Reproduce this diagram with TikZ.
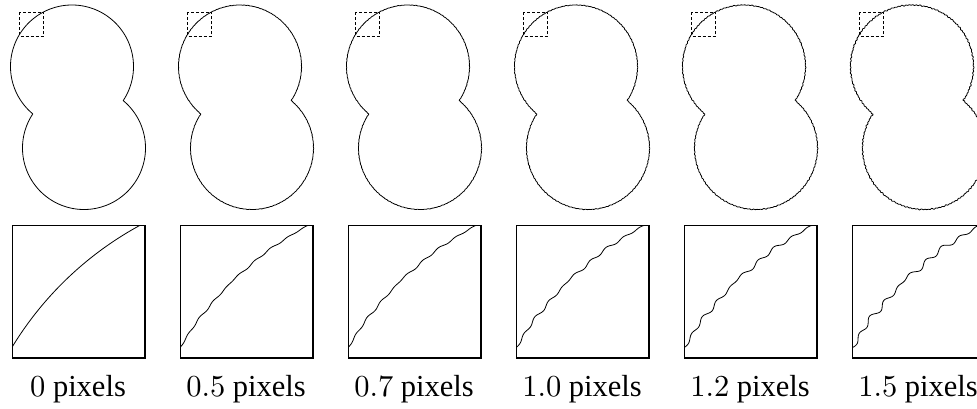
\documentclass[tikz,border=0pt]{standalone}
\usepackage{fontspec}
\setmainfont{Liberation Serif}
\newfontfamily\lmdigits{lmroman10-regular.otf}
\tikzset{
  peanut/.style={line width=0.8pt, line join=round},
  zoombox/.style={line width=1.4pt},
  dashsq/.style={line width=0.7pt, dash pattern=on 3pt off 2pt},
  lab/.style={font=\fontsize{30.5}{31}\selectfont, inner sep=0pt}
}
\begin{document}
\begin{tikzpicture}[x=1pt,y=-1pt,
  declare function={
    nza(\u)=0.7*sin(360*(79*\u-floor(79*\u)))+0.35*sin(360*(61*\u-floor(61*\u)))+0.3*sin(360*(31*\u-floor(31*\u)))+0.2*sin(360*(47*\u-floor(47*\u)));
    nzb(\u)=0.7*sin(360*(79*\u-floor(79*\u)))+0.35*sin(360*(59*\u-floor(59*\u)))+0.3*sin(360*(37*\u-floor(37*\u)))+0.2*sin(360*(53*\u-floor(53*\u)));
  }]
\useasboundingbox (0,0) rectangle (977,409);
\foreach \i/\A/\lab in {0/0/0, 1/0.14/0.5, 2/0.17/0.7, 3/0.25/1.0, 4/0.33/1.2, 5/0.46/1.5}{
  \begin{scope}[shift={(168*\i,0)}]
    \draw[peanut]
      plot[smooth, domain=0:1, samples=500, variable=\t]
        ({72+(61.5+\A*nza(\t))*cos(129.58+264.09*\t)}, {66.5+(61.5+\A*nza(\t))*sin(129.58+264.09*\t)})
      -- plot[smooth, domain=0:1, samples=500, variable=\t]
        ({84+(61.5+\A*nzb(\t))*cos(-50.42+264.09*\t)}, {148+(61.5+\A*nzb(\t))*sin(-50.42+264.09*\t)})
      -- cycle;
    \draw[dashsq] (19.5,12.5) rectangle (43.5,36.5);
    \begin{scope}
      \clip (12.3,225.5) rectangle (144.8,358);
      \begin{scope}[shift={(12.3,225.5)}, scale=5.52, shift={(-19.5,-12.5)}]
        \draw[peanut]
          plot[smooth, domain=0.25:0.49, samples=260, variable=\t]
            ({72+(61.5+\A*nza(\t))*cos(129.58+264.09*\t)}, {66.5+(61.5+\A*nza(\t))*sin(129.58+264.09*\t)});
      \end{scope}
    \end{scope}
    \draw[zoombox] (12.3,225.5) rectangle (144.8,358);
    \node[lab, anchor=base] (lab\i) at (78,396.7) {{\lmdigits\lab} pixels};
  \end{scope}
}
\end{tikzpicture}
\end{document}
